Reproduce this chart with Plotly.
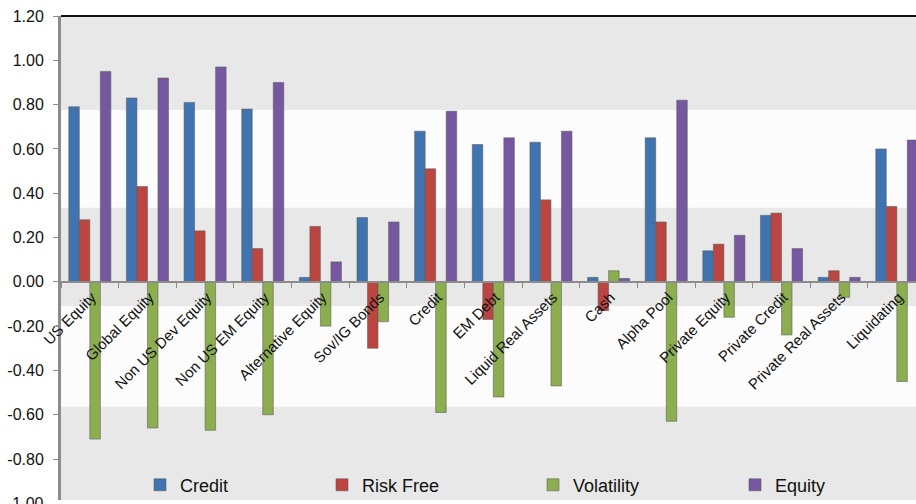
import plotly.graph_objects as go

# Factor exposure by asset group
categories = ["US Equity", "Global Equity", "Non US Dev Equity", "Non US EM Equity",
              "Alternative Equity", "Sov/IG Bonds", "Credit", "EM Debt",
              "Liquid Real Assets", "Cash", "Alpha Pool", "Private Equity",
              "Private Credit", "Private Real Assets", "Liquidating"]

credit = [0.79, 0.83, 0.81, 0.78, 0.02, 0.29, 0.68, 0.62, 0.63, 0.02, 0.65, 0.14, 0.30, 0.02, 0.60]
risk_free = [0.28, 0.43, 0.23, 0.15, 0.25, -0.30, 0.51, -0.17, 0.37, -0.13, 0.27, 0.17, 0.31, 0.05, 0.34]
volatility = [-0.71, -0.66, -0.67, -0.60, -0.20, -0.18, -0.59, -0.52, -0.47, 0.05, -0.63, -0.16, -0.24, -0.07, -0.45]
equity = [0.95, 0.92, 0.97, 0.90, 0.09, 0.27, 0.77, 0.65, 0.68, 0.015, 0.82, 0.21, 0.15, 0.02, 0.64]

series_names = ["Credit", "Risk Free", "Volatility", "Equity"]
series_values = [credit, risk_free, volatility, equity]
series_colors = ["#3f74b0", "#bb4541", "#8cae4e", "#7558a0"]

tick_vals = [1.2, 1.0, 0.8, 0.6, 0.4, 0.2, 0.0, -0.2, -0.4, -0.6, -0.8, -1.0]
tick_text = ["1.20", "1.00", "0.80", "0.60", "0.40", "0.20", "0.00",
             "-0.20", "-0.40", "-0.60", "-0.80", "-1.00"]

# alternating background bands (value edges)
band_edges = [1.2, 0.776, 0.334, -0.109, -0.564, -1.0]
band_colors = ["#e8e8e8", "#fcfcfc"]

y_min, y_max = -0.985, 1.2
# the last category is partly clipped at the right edge of the chart
x_min, x_max = -0.5, len(categories) - 0.667
FONT = "Liberation Sans, Arial, sans-serif"

fig = go.Figure()
legend_ids = ["legend", "legend2", "legend3", "legend4"]
for name, vals, col, lg in zip(series_names, series_values, series_colors, legend_ids):
    fig.add_trace(go.Bar(
        name=name, x=categories, y=vals,
        marker=dict(color=col, line=dict(color="rgba(90,90,90,0.55)", width=1)),
        legend=lg,
    ))

shapes = []
for i in range(len(band_edges) - 1):
    shapes.append(dict(type="rect", xref="paper", yref="y", x0=0, x1=1,
                       y0=band_edges[i + 1], y1=band_edges[i],
                       fillcolor=band_colors[i % 2], line=dict(width=0), layer="below"))
# top frame line
shapes.append(dict(type="line", xref="paper", yref="paper", x0=0, x1=1, y0=1, y1=1,
                   line=dict(color="#111111", width=2)))

zero_pos = (0 - y_min) / (y_max - y_min)

# legend entries placed one by one across the bottom
legend_text_px = [180, 362, 573, 775]
plot_w = 916 - 61
legend_layout = {}
for lg, px in zip(legend_ids, legend_text_px):
    legend_layout[lg] = dict(
        x=(px - 40 - 61) / plot_w, xanchor="left",
        y=(504 - 489) / 488, yanchor="middle",
        orientation="h", bgcolor="rgba(0,0,0,0)",
        font=dict(family=FONT, size=18, color="#111111"),
        itemwidth=30,
    )

# lowest tick label sits just below the visible plot area
annotations = [dict(xref="paper", yref="paper", x=0, xanchor="right", xshift=-15,
                    y=(tick_vals[-1] - y_min) / (y_max - y_min), yanchor="middle",
                    text=tick_text[-1], showarrow=False,
                    font=dict(family=FONT, size=16, color="#111111"))]

fig.update_layout(
    width=916, height=504,
    margin=dict(l=61, r=0, t=16, b=0),
    paper_bgcolor="white", plot_bgcolor="white",
    barmode="group", bargap=0.27, bargroupgap=0,
    shapes=shapes, annotations=annotations,
    showlegend=True,
    font=dict(family=FONT, size=15, color="#111111"),
    **legend_layout,
)

fig.update_xaxes(
    type="category", range=[x_min, x_max],
    anchor="free", position=zero_pos,
    showline=True, linecolor="#8c8c8c", linewidth=2,
    ticks="outside", tickson="boundaries", ticklen=5, tickcolor="#8c8c8c",
    tickangle=-45, ticklabelshift=2,
    tickfont=dict(family=FONT, size=15, color="#111111"),
    showgrid=False, zeroline=False, layer="above traces",
)
fig.update_yaxes(
    range=[y_min, y_max], tickvals=tick_vals, ticktext=tick_text,
    showline=True, linecolor="#8c8c8c", linewidth=3,
    ticks="outside", ticklen=5, tickcolor="#8c8c8c",
    ticklabelstandoff=6,
    tickfont=dict(family=FONT, size=16, color="#111111"),
    showgrid=False, zeroline=False,
)

fig.write_html("out.html")
